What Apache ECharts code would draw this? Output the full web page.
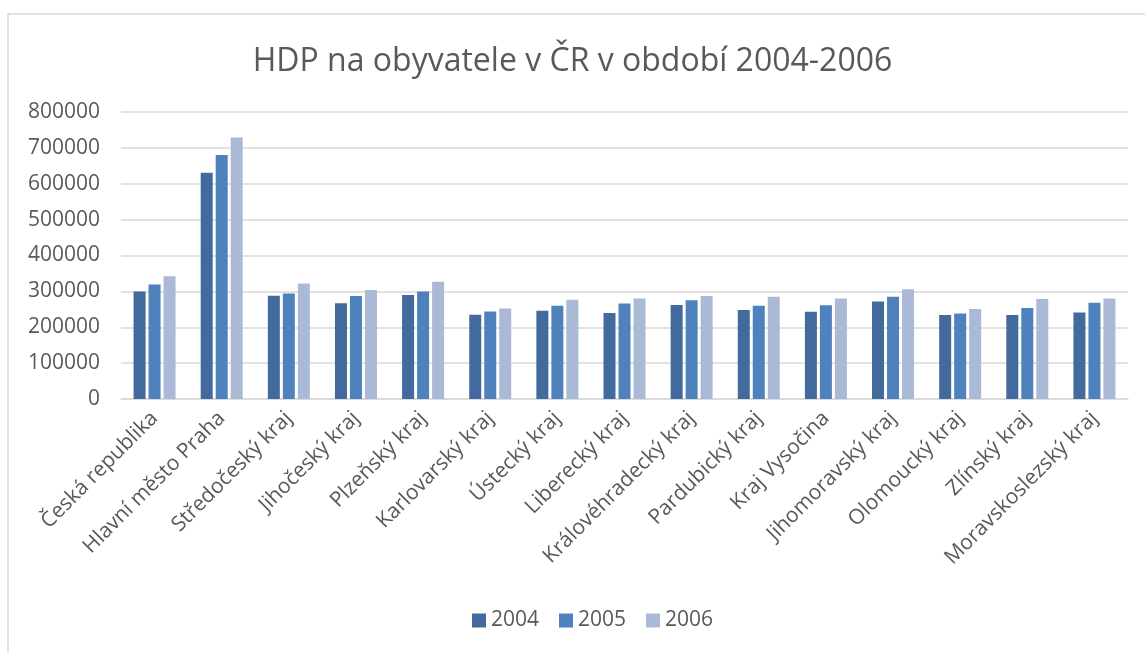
<!DOCTYPE html>
<html>
<head>
<meta charset="utf-8">
<script src="https://cdn.jsdelivr.net/npm/echarts@6/dist/echarts.min.js"></script>
<style>
html, body { margin: 0; padding: 0; background: #fff; }
#main { width: 1145px; height: 652px; }
</style>
</head>
<body>
<div id="main"></div>
<script>
var kraje = ['Česká republika', 'Hlavní město Praha', 'Středočeský kraj', 'Jihočeský kraj', 'Plzeňský kraj',
	'Karlovarský kraj', 'Ústecký kraj', 'Liberecký kraj', 'Královéhradecký kraj', 'Pardubický kraj',
	'Kraj Vysočina', 'Jihomoravský kraj', 'Olomoucký kraj', 'Zlínský kraj', 'Moravskoslezský kraj'];
var roky = ['2004', '2005', '2006'];
var hdp2004 = [300000, 631000, 288000, 267000, 290000, 235000, 246000, 240000, 262000, 248000, 243000, 272000, 234000, 234000, 241000];
var hdp2005 = [319000, 680000, 294000, 287000, 300000, 244000, 260000, 266000, 275000, 260000, 261000, 285000, 238000, 254000, 268000];
var hdp2006 = [342000, 729000, 322000, 304000, 327000, 252000, 277000, 280000, 287000, 285000, 280000, 306000, 251000, 279000, 280000];
var osaY = [0, 100000, 200000, 300000, 400000, 500000, 600000, 700000, 800000];

var barvy = ['#426A9C', '#4F81BD', '#AAB9D6'];
var pismo = 'Open Sans';

var myChart = echarts.init(document.getElementById('main'));
var option = {
	backgroundColor : '#fff',
	color : barvy,
	textStyle : { fontFamily : pismo, color : '#595959' },
	title : {
		text : 'HDP na obyvatele v ČR v období 2004-2006',
		left : 'center',
		top : 41,
		textStyle : {
			fontFamily : pismo,
			fontWeight : 'normal',
			fontSize : 32,
			color : '#595959'
		}
	},
	graphic : [ {
		type : 'rect',
		shape : { x : 8, y : 14, width : 1160, height : 660 },
		style : { fill : 'none', stroke : '#d9d9d9', lineWidth : 1.5 },
		silent : true
	} ],
	legend : {
		data : roky,
		bottom : 16,
		left : 467,
		icon : 'rect',
		itemWidth : 14,
		itemHeight : 14,
		itemGap : 20,
		textStyle : { fontFamily : pismo, fontSize : 21, color : '#595959' }
	},
	grid : {
		left : 121,
		right : 17,
		top : 112,
		bottom : 253,
		containLabel : false
	},
	xAxis : {
		type : 'category',
		data : kraje,
		axisLine : { lineStyle : { color : '#d9d9d9', width : 1.5 } },
		axisTick : { show : false },
		axisLabel : {
			rotate : 45,
			interval : 0,
			margin : 16,
			fontFamily : pismo,
			fontSize : 21,
			color : '#595959'
		}
	},
	yAxis : {
		type : 'value',
		min : osaY[0],
		max : osaY[osaY.length - 1],
		interval : 100000,
		axisLine : { show : false },
		axisTick : { show : false },
		splitLine : { lineStyle : { color : '#d9d9d9', width : 1.5 } },
		axisLabel : {
			margin : 21,
			fontFamily : pismo,
			fontSize : 21,
			color : '#595959',
			formatter : function (v) { return String(v); }
		}
	},
	series : [ {
		name : roky[0],
		type : 'bar',
		data : hdp2004,
		barWidth : 12,
		barGap : '25%'
	}, {
		name : roky[1],
		type : 'bar',
		data : hdp2005,
		barWidth : 12,
		barGap : '25%'
	}, {
		name : roky[2],
		type : 'bar',
		data : hdp2006,
		barWidth : 12,
		barGap : '25%'
	} ]
};
myChart.setOption(option);
</script>
</body>
</html>
